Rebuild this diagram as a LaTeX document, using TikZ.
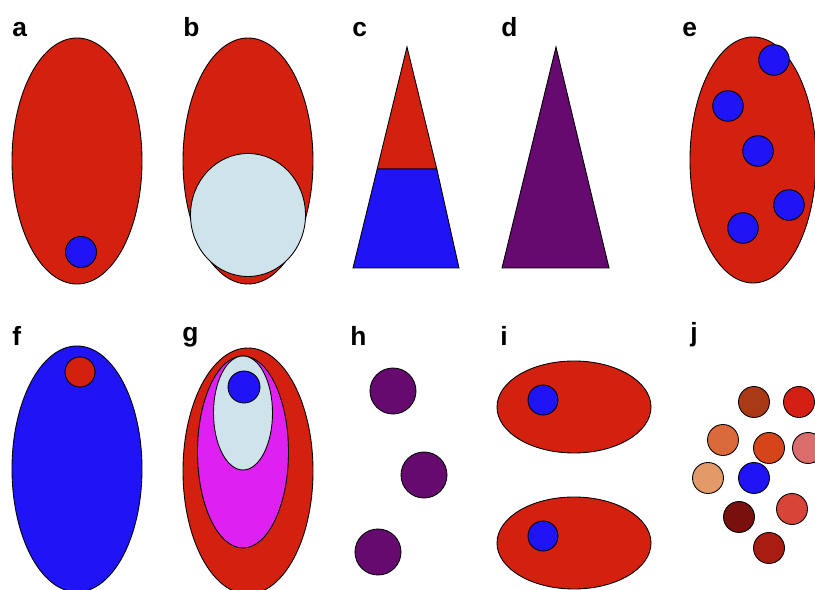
\documentclass[tikz,border=0pt]{standalone}
\usepackage{fontspec}
\setmainfont{Liberation Sans}
\usepackage{tikz}
\usetikzlibrary{positioning}
\definecolor{CellRed}{RGB}{212,32,14}
\definecolor{CellBlue}{RGB}{30,20,245}
\definecolor{CellPale}{RGB}{207,228,234}
\definecolor{CellPurple}{RGB}{102,10,112}
\definecolor{CellMagenta}{RGB}{222,32,240}
\definecolor{JBrown}{RGB}{170,58,22}
\definecolor{JRed}{RGB}{212,32,20}
\definecolor{JOrange}{RGB}{218,106,60}
\definecolor{JRust}{RGB}{214,68,26}
\definecolor{JPink}{RGB}{218,108,108}
\definecolor{JPeach}{RGB}{226,154,104}
\definecolor{JMaroon}{RGB}{120,16,14}
\definecolor{JCoral}{RGB}{216,68,56}
\definecolor{JCrimson}{RGB}{168,28,18}

\begin{document}
\begin{tikzpicture}[x=0.02cm, y=-0.02cm,
    cell/.style={draw=black, line width=0.5pt},
    lbl/.style={font=\fontsize{15}{18}\selectfont\bfseries, anchor=base west, inner sep=0pt}]
        \useasboundingbox (0,0) rectangle (815,590);

        % Panel a: one small dot at the bottom
        \node[lbl] (la) at (12,37) {a};
        \draw[cell, fill=CellRed] (77,161) ellipse (65 and 123);
        \draw[cell, fill=CellBlue] (81,252) circle (15.5);

        % Panel b: big pale body
        \node[lbl] (lb) at (183,37) {b};
        \draw[cell, fill=CellRed] (248,161) ellipse (65 and 123);
        \draw[cell, fill=CellPale] (248,215) ellipse (57.5 and 61.5);

        % Panel c: split cone
        \node[lbl] (lc) at (352,37) {c};
        \draw[cell, fill=CellRed] (407,47) -- (377.2,169) -- (436.8,169) -- cycle;
        \draw[cell, fill=CellBlue] (377.2,169) -- (436.8,169) -- (459,268) -- (353,268) -- cycle;

        % Panel d: mixed cone
        \node[lbl] (ld) at (501,37) {d};
        \draw[cell, fill=CellPurple] (556,47) -- (609,268) -- (502,268) -- cycle;

        % Panel e: scattered dots
        \node[lbl] (le) at (682,37) {e};
        \draw[cell, fill=CellRed] (753,160) ellipse (63 and 123);
        \foreach \ex/\ey in {774/60, 728/106, 758/151, 789/205, 743/228} {
          \draw[cell, fill=CellBlue] (\ex,\ey) circle (15.3);
        }

        % Panel f: inverted colours
        \node[lbl] (lf) at (12,346) {f};
        \draw[cell, fill=CellBlue] (77,469) ellipse (65 and 123);
        \draw[cell, fill=CellRed] (80,372) circle (15);

        % Panel g: nested layers
        \node[lbl] (lg) at (182,342) {g};
        \draw[cell, fill=CellRed] (248,471) ellipse (65 and 123);
        \draw[cell, fill=CellMagenta] (243,452) ellipse (45.5 and 96);
        \draw[cell, fill=CellPale] (243,413) ellipse (29.5 and 57);
        \draw[cell, fill=CellBlue] (244,387) circle (16);

        % Panel h: free purple dots
        \node[lbl] (lh) at (350,346) {h};
        \foreach \hx/\hy in {393/391, 424/475, 378/552} {
          \draw[cell, fill=CellPurple] (\hx,\hy) circle (23);
        }

        % Panel i: two flat bodies
        \node[lbl] (li) at (500,346) {i};
        \foreach \iy in {407, 543} {
          \draw[cell, fill=CellRed] (574,\iy) ellipse (77 and 46);
          \draw[cell, fill=CellBlue] (543,\iy-7) circle (15);
        }

        % Panel j: coloured cluster
        \node[lbl] (lj) at (690,342) {j};
        \foreach \jx/\jy/\jc in {
          754/402/JBrown, 799/402/JRed, 723/440/JOrange,
          769/448/JRust, 808/448/JPink, 708/478/JPeach,
          754/478/CellBlue, 739/517/JMaroon, 792/509/JCoral,
          769/548/JCrimson} {
          \draw[cell, fill=\jc] (\jx,\jy) circle (15.5);
        }
      \end{tikzpicture}
\end{document}
